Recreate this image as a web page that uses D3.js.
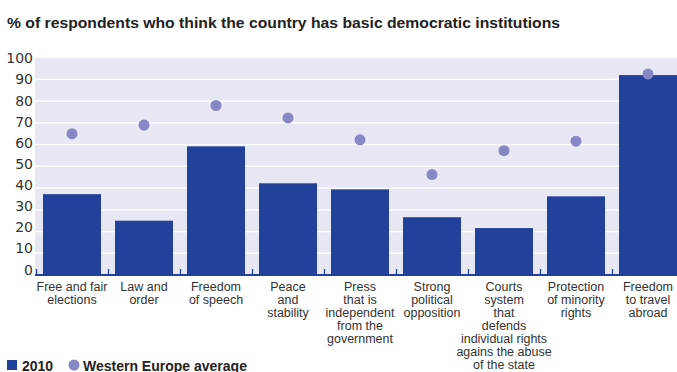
<!DOCTYPE html>
<html>
<head>
<meta charset="utf-8">
<script src="https://cdn.jsdelivr.net/npm/d3@7"></script>
<style>
  html, body { margin: 0; padding: 0; background: #fff; }
  svg { display: block; }
</style>
</head>
<body>
<svg id="chart" width="677" height="372"></svg>
<script>
// ---- data ----
const categories = [
  ["Free and fair", "elections"],
  ["Law and", "order"],
  ["Freedom", "of speech"],
  ["Peace", "and", "stability"],
  ["Press", "that is", "independent", "from the", "government"],
  ["Strong", "political", "opposition"],
  ["Courts", "system", "that", "defends", "individual rights", "agains the abuse", "of the state"],
  ["Protection", "of minority", "rights"],
  ["Freedom", "to travel", "abroad"]
];
const values2010 = [37.2, 25, 59.2, 42.2, 39.4, 26.6, 21.6, 36.2, 92];
const westernEurope = [65, 69, 78, 72.3, 62.2, 46.2, 57.2, 61.6, 92.5];
const yTicks = [0, 10, 20, 30, 40, 50, 60, 70, 80, 90, 100];
const titleText = "% of respondents who think the country has basic democratic institutions";
const legendLabels = ["2010", "Western Europe average"];

// ---- styles ----
const barColor = "#22419a";
const dotColor = "#8787c5";
const bgColor = "#e8e8f4";
const textColor = "#333333";

const svg = d3.select("#chart");
const ids = categories.map((d, i) => i);

const x = d3.scaleBand().domain(ids).range([36, 684]).paddingInner(0.194).paddingOuter(0.097);
const y = d3.scaleLinear().domain([0, 100]).range([275, 57.7]);
const yLab = d3.scaleLinear().domain([0, 100]).range([269.5, 58.3]);

// title
svg.append("text")
  .attr("x", 7).attr("y", 27.5)
  .attr("font-family", "Liberation Sans, Arial, sans-serif")
  .attr("font-weight", "bold").attr("font-size", 14.6)
  .attr("fill", "#222")
  .attr("textLength", 553).attr("lengthAdjust", "spacingAndGlyphs")
  .text(titleText);

// plot background
svg.append("rect")
  .attr("x", 35).attr("y", y(100))
  .attr("width", 677 - 35).attr("height", y(0) - y(100))
  .attr("fill", bgColor);

// gridlines
svg.append("g").selectAll("line").data(yTicks.filter(v => v > 0 && v < 100)).join("line")
  .attr("x1", 35).attr("x2", 677)
  .attr("y1", d => y(d)).attr("y2", d => y(d))
  .attr("stroke", "#ffffff").attr("stroke-width", 1.3);

// y labels
svg.append("g").selectAll("text").data(yTicks).join("text")
  .attr("x", 33).attr("y", d => yLab(d))
  .attr("dy", "0.36em")
  .attr("text-anchor", "end")
  .attr("font-family", "DejaVu Sans, sans-serif")
  .attr("font-size", 14).attr("fill", textColor)
  .text(d => d);

// bars
svg.append("g").selectAll("rect").data(values2010).join("rect")
  .attr("x", (d, i) => x(i)).attr("width", x.bandwidth())
  .attr("y", d => y(d)).attr("height", d => y(0) - y(d))
  .attr("fill", barColor);

// axis line & ticks
svg.append("line")
  .attr("x1", 35).attr("x2", 677).attr("y1", 275).attr("y2", 275)
  .attr("stroke", barColor).attr("stroke-width", 2);
const tickPos = ids.map(i => x(i) - (x.step() - x.bandwidth()) / 2);
svg.append("g").selectAll("line").data(tickPos).join("line")
  .attr("x1", d => Math.round(d) + 0.5).attr("x2", d => Math.round(d) + 0.5)
  .attr("y1", 269).attr("y2", 275)
  .attr("stroke", barColor).attr("stroke-width", 1.3);

// dots
svg.append("g").selectAll("circle").data(westernEurope).join("circle")
  .attr("cx", (d, i) => x(i) + x.bandwidth() / 2)
  .attr("cy", d => y(d)).attr("r", 5.5)
  .attr("fill", dotColor);

// category labels
const lab = svg.append("g")
  .attr("font-family", "Liberation Sans, Arial, sans-serif")
  .attr("font-size", 12.5).attr("fill", textColor)
  .attr("text-anchor", "middle");
categories.forEach((lines, i) => {
  const t = lab.append("text").attr("x", x(i) + x.bandwidth() / 2).attr("y", 290.7);
  lines.forEach((ln, j) => {
    t.append("tspan").attr("x", x(i) + x.bandwidth() / 2).attr("dy", j === 0 ? 0 : 13.05).text(ln);
  });
});

// legend
const lg = svg.append("g")
  .attr("font-family", "Liberation Sans, Arial, sans-serif")
  .attr("font-weight", "bold").attr("font-size", 14).attr("fill", "#222");
lg.append("rect").attr("x", 7).attr("y", 360).attr("width", 10).attr("height", 10).attr("fill", barColor);
lg.append("text").attr("x", 22).attr("y", 370.5).text(legendLabels[0]);
lg.append("circle").attr("cx", 74).attr("cy", 365).attr("r", 5.5).attr("fill", dotColor);
lg.append("text").attr("x", 83).attr("y", 370.5).text(legendLabels[1]);
</script>
</body>
</html>
